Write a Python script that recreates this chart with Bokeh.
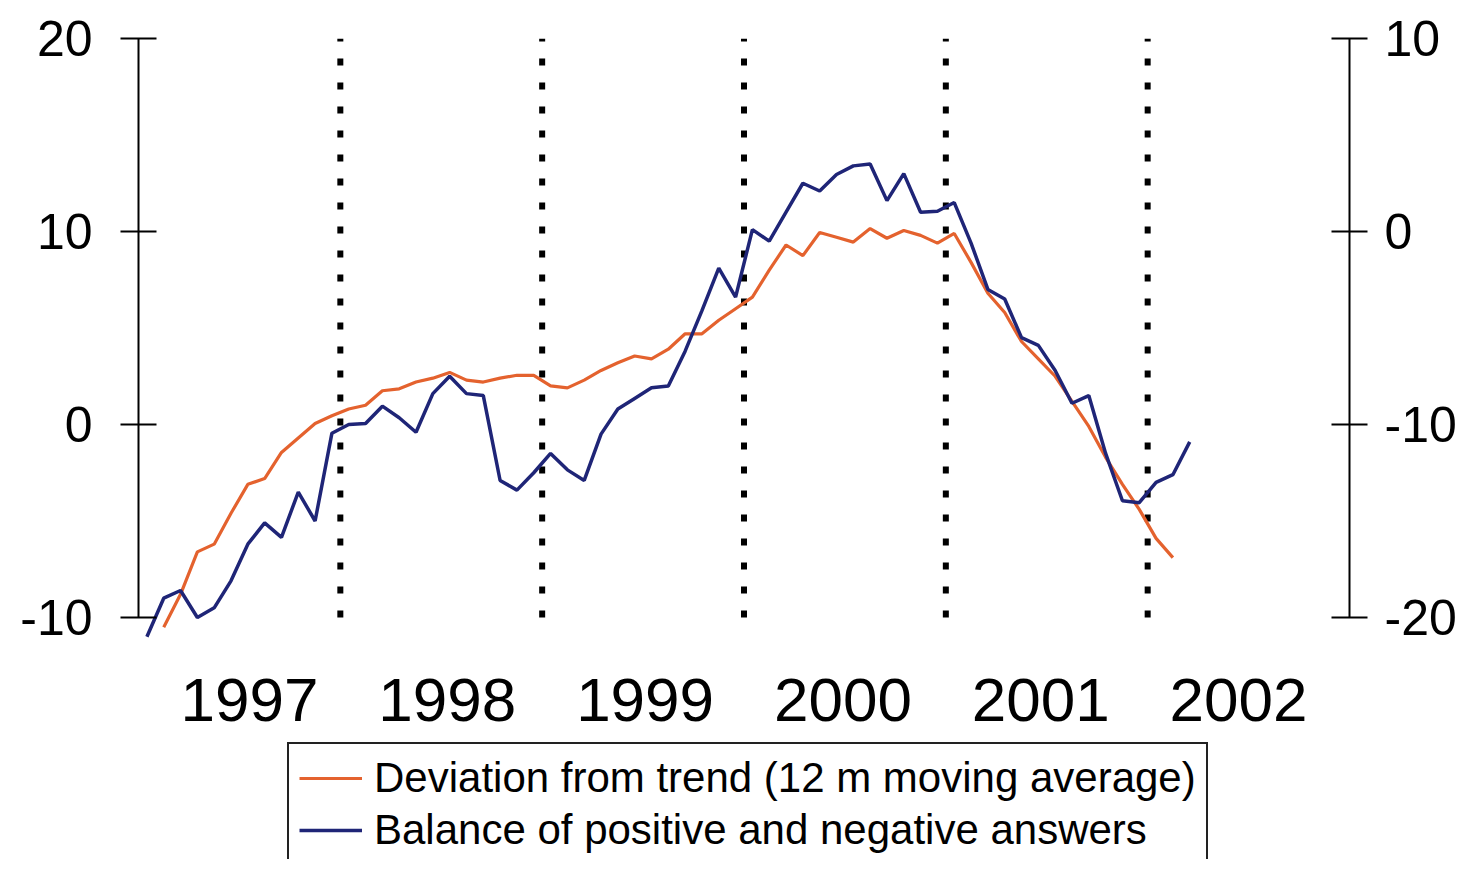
from bokeh.plotting import figure
from bokeh.models import Range1d, FixedTicker, LinearAxis, Legend, LegendItem, ColumnDataSource
from bokeh.core.properties import value
from bokeh.embed import file_html
from bokeh.resources import INLINE
import pandas as pd

# ---------------- data ----------------
# Deviation from trend (12 m moving average), left axis, monthly from Feb 1997
deviation_start = "1997-02"
deviation = [-10.5, -8.8, -6.6, -6.2, -4.6, -3.1, -2.8, -1.45, -0.7, 0.05, 0.45,
             0.8, 1.0, 1.75, 1.85, 2.2, 2.4, 2.7, 2.3, 2.2, 2.4, 2.55, 2.55,
             2.0, 1.9, 2.3, 2.8, 3.2, 3.55, 3.4, 3.9, 4.7, 4.7, 5.4, 6.0,
             6.6, 8.0, 9.3, 8.75, 9.95, 9.7, 9.45, 10.15, 9.65, 10.05, 9.8, 9.4,
             9.9, 8.4, 6.8, 5.8, 4.3, 3.4, 2.5, 1.2, -0.1, -1.7, -3.1, -4.4,
             -5.9, -6.9]

# Balance of positive and negative answers, right axis, monthly from Jan 1997
balance_start = "1997-01"
balance = [-21.0, -19.0, -18.6, -20.0, -19.5, -18.1, -16.2, -15.1, -15.85, -13.5, -15.0,
           -10.45, -10.0, -9.95, -9.05, -9.65, -10.4, -8.4, -7.5, -8.4, -8.5, -12.9,
           -13.4, -12.5, -11.5, -12.35, -12.9, -10.5, -9.2, -8.65, -8.1, -8.0, -6.2,
           -4.1, -1.9, -3.4, 0.1, -0.5, 1.0, 2.5, 2.1, 2.95, 3.4, 3.5,
           1.6, 3.0, 1.0, 1.05, 1.5, -0.6, -3.0, -3.5, -5.5, -5.9, -7.2,
           -8.9, -8.5, -11.5, -13.95, -14.05, -13.0, -12.6, -10.9]

year_boundaries = [1998, 1999, 2000, 2001, 2002]
year_labels = ["1997", "1998", "1999", "2000", "2001", "2002"]
year_label_pos = [1997.55, 1998.53, 1999.51, 2000.49, 2001.47, 2002.45]
year_label_level = -14.3   # left-axis units, just under the plotted area

left_ticks = [-10, 0, 10, 20]
right_ticks = [-20, -10, 0, 10]

series_names = ["Deviation from trend (12 m moving average)",
                "Balance of positive and negative answers"]


def frac_years(start, n):
    idx = pd.period_range(start, periods=n, freq="M")
    return [p.year + (p.month - 0.5) / 12.0 for p in idx]


dev_src = ColumnDataSource(dict(x=frac_years(deviation_start, len(deviation)), y=deviation))
bal_src = ColumnDataSource(dict(x=frac_years(balance_start, len(balance)), y=balance))
lab_src = ColumnDataSource(dict(x=year_label_pos, y=[year_label_level] * len(year_labels),
                                text=year_labels))

FONT = "Liberation Sans"
ORANGE = "#E4622E"
BLUE = "#1F2577"

W, H = 1459, 859
BORDER_L, BORDER_R, BORDER_T = 138, 109, 38
PX_PER_UNIT = 19.3
y_low = 20 - (H - BORDER_T) / PX_PER_UNIT

p = figure(width=W, height=H, output_backend="svg", toolbar_location=None,
           x_range=Range1d(1997, 2003), y_range=Range1d(y_low, 20),
           min_border_left=BORDER_L, min_border_right=BORDER_R,
           min_border_top=BORDER_T, min_border_bottom=0)
p.outline_line_color = None
p.grid.visible = False
p.xaxis.visible = False
p.extra_y_ranges = {"right": Range1d(y_low - 10, 10)}

# year boundary dotted lines
p.segment(x0=year_boundaries, y0=[-10] * len(year_boundaries),
          x1=year_boundaries, y1=[20] * len(year_boundaries),
          line_color="black", line_width=6, line_dash="7 17")

r_dev = p.line("x", "y", source=dev_src, line_color=ORANGE, line_width=3.2)
r_bal = p.line("x", "y", source=bal_src, line_color=BLUE, line_width=3.5,
               y_range_name="right")

# year labels
p.text("x", "y", text="text", source=lab_src, text_font=value(FONT),
       text_font_size="62px", text_align="center", text_baseline="middle",
       text_color="black")

# left axis
ya = p.yaxis[0]
ya.ticker = FixedTicker(ticks=left_ticks)
ya.major_label_overrides = {t: str(t) for t in left_ticks}
ya.bounds = (-10, 20)
ya.axis_line_width = 2
ya.major_tick_line_width = 2
ya.major_tick_in = 18
ya.major_tick_out = 18
ya.minor_tick_line_color = None
ya.major_label_text_font = FONT
ya.major_label_text_font_size = "50px"
ya.major_label_text_color = "black"
ya.major_label_standoff = 28

# right axis
ra = LinearAxis(y_range_name="right", ticker=FixedTicker(ticks=right_ticks))
ra.major_label_overrides = {t: str(t) for t in right_ticks}
ra.bounds = (-20, 10)
ra.axis_line_width = 2
ra.major_tick_line_width = 2
ra.major_tick_in = 18
ra.major_tick_out = 18
ra.minor_tick_line_color = None
ra.major_label_text_font = FONT
ra.major_label_text_font_size = "50px"
ra.major_label_text_color = "black"
ra.major_label_standoff = 17
p.add_layout(ra, "right")

legend = Legend(items=[LegendItem(label=series_names[0], renderers=[r_dev]),
                       LegendItem(label=series_names[1], renderers=[r_bal])],
                location=(149, -7))
legend.label_text_font = FONT
legend.label_text_font_size = "42px"
legend.label_text_color = "black"
legend.glyph_width = 63
legend.glyph_height = 46
legend.label_height = 46
legend.label_standoff = 12
legend.spacing = 4
legend.padding = 10
legend.margin = 0
legend.border_line_color = "#222222"
legend.border_line_alpha = 1.0
legend.border_line_width = 2
legend.background_fill_alpha = 1
p.add_layout(legend, "center")

open("out.html", "w").write(file_html(p, INLINE))
